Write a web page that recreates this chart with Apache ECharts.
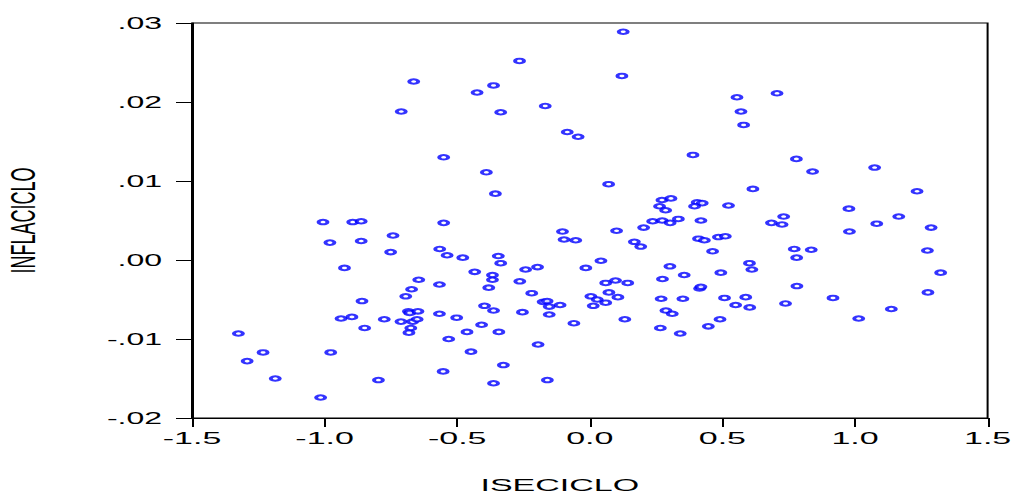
<!DOCTYPE html>
<html>
<head>
<meta charset="utf-8">
<script src="https://cdn.jsdelivr.net/npm/echarts@6/dist/echarts.min.js"></script>
<style>
html,body{margin:0;padding:0;background:#fff;overflow:hidden;}
#wrap{width:1015px;height:498px;overflow:hidden;}
#chart{width:507.5px;height:498px;transform:scaleX(2);transform-origin:0 0;}
</style>
</head>
<body>
<div id="wrap"><div id="chart"></div></div>
<script>
var isecicloValues = [
-0.265,-0.664,-0.425,-0.363,-0.711,-0.336,-0.168,-0.085,-0.044,-0.551,-0.390,-0.356,-1.006,-0.894,-0.862,-0.551,
0.126,0.121,0.555,0.706,0.570,0.580,0.389,0.779,0.840,1.074,0.071,0.615,1.234,0.272,0.306,0.263,0.286,0.405,0.424,0.395,0.523,0.977,0.731,1.165,
0.237,0.273,0.303,0.334,0.419,0.685,0.725,1.082,1.287,0.101,0.203,0.979,0.168,0.192,0.410,0.432,0.485,0.511,0.463,0.771,0.835,0.780,1.273,1.323,
0.042,-0.015,0.302,0.356,0.274,0.494,0.602,0.611,0.060,0.097,0.143,0.072,0.004,0.028,0.013,0.060,0.106,0.414,0.419,0.781,0.269,0.351,0.508,0.588,
0.550,0.603,0.738,0.917,1.275,1.137,1.014,0.132,0.287,0.311,0.491,0.266,0.447,0.341,
-0.103,-0.097,-0.053,-0.742,-0.980,-0.862,-0.751,-0.566,-0.538,-0.479,-0.345,-0.336,-0.925,-0.434,-0.367,-0.367,-0.242,-0.197,
-0.645,-0.567,-0.672,-0.381,-0.264,-0.694,-0.219,-0.859,-0.176,-0.161,-0.153,-0.112,-0.397,-0.363,-0.254,-0.153,-0.684,-0.679,-0.648,-0.567,
-0.938,-0.897,-0.775,-0.712,-0.668,-0.651,-0.502,-0.849,-0.675,-0.682,-0.408,-0.463,-0.343,-0.060,-1.325,-0.532,-0.195,-1.232,-0.977,-0.448,
-1.292,-0.326,-0.553,-1.186,-0.797,-0.363,-0.160,-1.015
];
var inflacicloValues = [
0.0252,0.0226,0.0212,0.0221,0.0188,0.0187,0.0195,0.0162,0.0156,0.0130,0.0111,0.0084,0.0048,0.0048,0.0049,0.0047,
0.0289,0.0233,0.0206,0.0211,0.0188,0.0171,0.0133,0.0128,0.0112,0.0117,0.0096,0.0090,0.0087,0.0076,0.0078,0.0068,0.0063,0.0073,0.0072,0.0068,0.0069,0.0065,0.0055,0.0055,
0.0049,0.0050,0.0047,0.0052,0.0050,0.0047,0.0045,0.0046,0.0041,0.0037,0.0041,0.0036,0.0023,0.0017,0.0027,0.0025,0.0029,0.0030,0.0011,0.0014,0.0013,0.0003,0.0012,-0.0016,
-0.0001,-0.0010,-0.0008,-0.0019,-0.0024,-0.0016,-0.0004,-0.0012,-0.0029,-0.0026,-0.0029,-0.0041,-0.0046,-0.0050,-0.0058,-0.0054,-0.0047,-0.0036,-0.0034,-0.0033,-0.0049,-0.0049,-0.0048,-0.0047,
-0.0057,-0.0060,-0.0055,-0.0048,-0.0041,-0.0062,-0.0074,-0.0075,-0.0064,-0.0068,-0.0075,-0.0086,-0.0084,-0.0093,
0.0036,0.0026,0.0025,0.0031,0.0022,0.0024,0.0010,0.0014,0.0006,0.0003,0.0005,-0.0004,-0.0010,-0.0015,-0.0019,-0.0025,-0.0012,-0.0009,
-0.0025,-0.0031,-0.0037,-0.0035,-0.0027,-0.0046,-0.0042,-0.0052,-0.0053,-0.0052,-0.0059,-0.0057,-0.0058,-0.0064,-0.0066,-0.0069,-0.0065,-0.0067,-0.0065,-0.0068,
-0.0074,-0.0072,-0.0075,-0.0078,-0.0078,-0.0075,-0.0073,-0.0086,-0.0086,-0.0092,-0.0082,-0.0091,-0.0091,-0.0080,-0.0093,-0.0100,-0.0107,-0.0117,-0.0117,-0.0116,
-0.0128,-0.0133,-0.0141,-0.0150,-0.0152,-0.0156,-0.0152,-0.0174
];
var xAxisTitle = 'ISECICLO';
var yAxisTitle = 'INFLACICLO';

var points = isecicloValues.map(function (x, i) { return [x, inflacicloValues[i]]; });

var chart = echarts.init(document.getElementById('chart'), null, { renderer: 'svg' });
var font = 'Liberation Sans, Arial, Helvetica, sans-serif';
chart.setOption({
  animation: false,
  backgroundColor: '#ffffff',
  grid: { left: 96, right: 14.2, top: 23, bottom: 80, containLabel: false, outerBoundsMode: 'none',
    show: true, borderColor: '#000', borderWidth: 1, backgroundColor: 'transparent' },
  xAxis: {
    type: 'value', min: -1.5, max: 1.5, interval: 0.5,
    name: xAxisTitle, nameLocation: 'middle', nameGap: 58.5,
    nameTextStyle: { color: '#000', fontFamily: font, fontSize: 17, padding: [0, 30, 0, 0] },
    axisLine: { show: true, onZero: false, lineStyle: { color: '#000', width: 1 } },
    axisTick: { show: true, inside: false, length: 9, lineStyle: { color: '#000' } },
    axisLabel: { color: '#000', fontFamily: font, fontSize: 17, margin: 12,
      formatter: function (v) { return v.toFixed(1); } },
    splitLine: { show: false }
  },
  yAxis: {
    type: 'value', min: -0.02, max: 0.03, interval: 0.01,
    name: yAxisTitle, nameLocation: 'middle', nameGap: 76,
    nameTextStyle: { color: '#000', fontFamily: font, fontSize: 18 },
    axisLine: { show: true, onZero: false, lineStyle: { color: '#000', width: 1 } },
    axisTick: { show: true, inside: false, length: 8, lineStyle: { color: '#000' } },
    axisLabel: { color: '#000', fontFamily: font, fontSize: 16, margin: 15, padding: [0, 0, 8, 0],
      formatter: function (v) { return v.toFixed(2).replace('0.', '.'); } },
    splitLine: { show: false }
  },
  series: [{
    type: 'scatter',
    data: points,
    symbol: 'emptyCircle',
    symbolSize: 4.5,
    itemStyle: { color: '#0000ff', borderColor: '#0000ff', borderWidth: 1 }
  }]
});
</script>
</body>
</html>
